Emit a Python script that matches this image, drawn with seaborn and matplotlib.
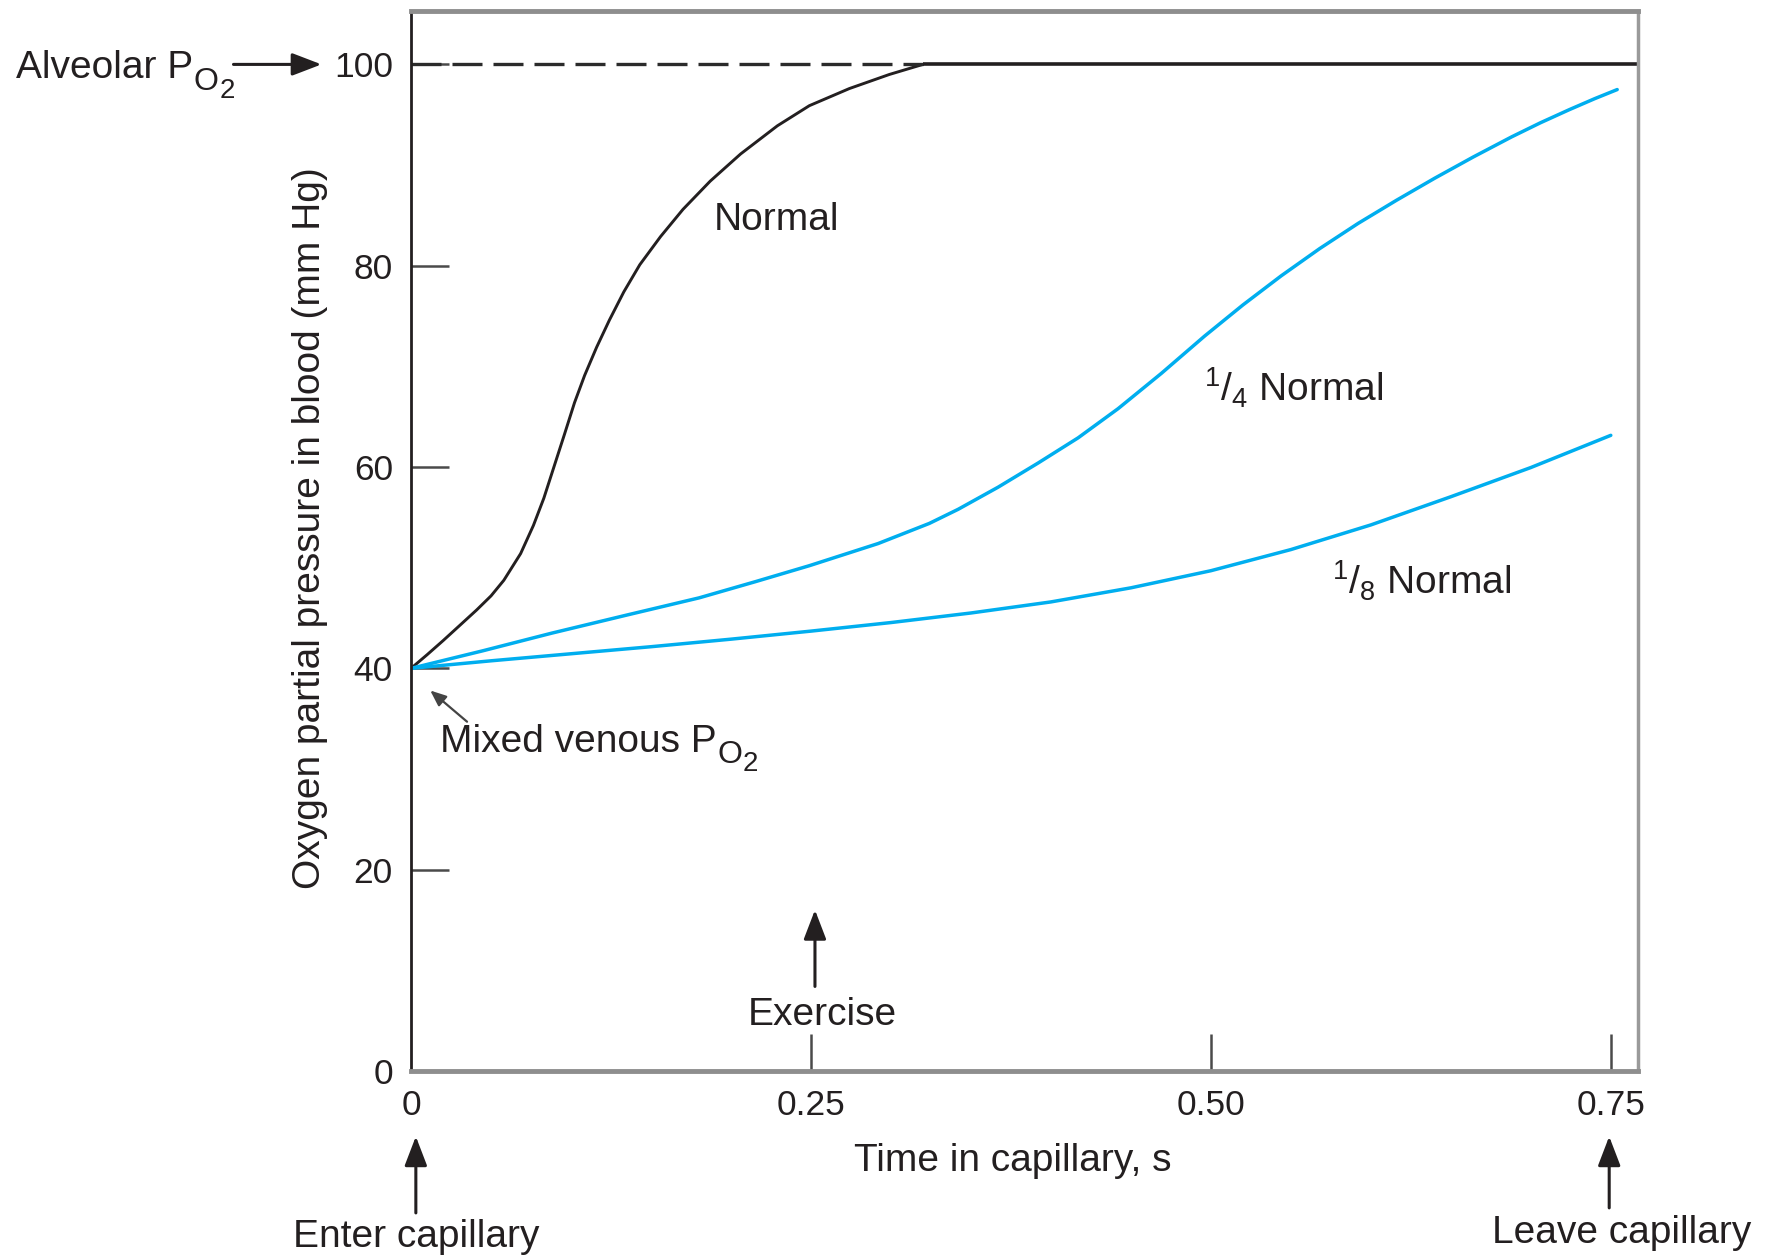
import matplotlib
matplotlib.use('Agg')
import matplotlib.pyplot as plt
import seaborn as sns

# values (time in s, PO2 in mm Hg)
normal_time = [0, 0.010, 0.020, 0.030, 0.041, 0.050, 0.058, 0.0685, 0.0765, 0.083,
               0.0895, 0.0958, 0.1022, 0.1085, 0.116, 0.124, 0.133, 0.143, 0.156, 0.170,
               0.187, 0.206, 0.229, 0.249, 0.274, 0.299, 0.320]
normal_po2 = [40, 41.35, 42.75, 44.2, 45.8, 47.2, 48.75, 51.4, 54.2, 56.9,
              60.1, 63.2, 66.4, 69.1, 71.9, 74.6, 77.4, 80.1, 82.9, 85.6,
              88.4, 91.1, 93.9, 95.9, 97.6, 99.0, 100]

quarter_time = [0, 0.045, 0.088, 0.135, 0.18, 0.215, 0.249, 0.292, 0.324, 0.342,
                0.367, 0.392, 0.417, 0.442, 0.469, 0.496, 0.52, 0.544, 0.568, 0.592,
                0.616, 0.640, 0.664, 0.688, 0.706, 0.724, 0.740, 0.754]
quarter_po2 = [40, 41.75, 43.5, 45.3, 47.0, 48.6, 50.2, 52.4, 54.4, 55.8,
               58.0, 60.4, 62.9, 65.8, 69.3, 73.0, 76.1, 79.0, 81.7, 84.2,
               86.5, 88.7, 90.8, 92.8, 94.2, 95.5, 96.6, 97.5]

eighth_time = [0, 0.05, 0.1, 0.15, 0.2, 0.25, 0.3, 0.35, 0.4, 0.45,
               0.5, 0.55, 0.6, 0.65, 0.7, 0.75]
eighth_po2 = [40, 40.75, 41.45, 42.15, 42.9, 43.7, 44.55, 45.5, 46.6, 48.0,
              49.7, 51.8, 54.25, 57.05, 59.95, 63.15]

alveolar_po2 = 100
x_ticks = [0, 0.25, 0.50, 0.75]
x_tick_labels = ['0', '0.25', '0.50', '0.75']
y_ticks = [0, 20, 40, 60, 80, 100]

INK = '#231f20'
BLUE = '#00aeef'
GREY = '#8e8e8e'

sns.set_style('white')
plt.rcParams['font.family'] = ['Liberation Sans', 'DejaVu Sans']
plt.rcParams['mathtext.fontset'] = 'custom'
plt.rcParams['mathtext.rm'] = 'Liberation Sans'
plt.rcParams['mathtext.it'] = 'Liberation Sans:italic'
plt.rcParams['mathtext.bf'] = 'Liberation Sans:bold'

fig = plt.figure(figsize=(17.71, 12.56), dpi=100)
ax = fig.add_axes([0.2321, 0.1473, 0.6928, 0.8439])

xmax = 0.767
sns.lineplot(x=normal_time, y=normal_po2, ax=ax, color=INK, lw=2.1)
sns.lineplot(x=quarter_time, y=quarter_po2, ax=ax, color=BLUE, lw=2.5)
sns.lineplot(x=eighth_time, y=eighth_po2, ax=ax, color=BLUE, lw=2.5)

# alveolar level: dashed until the normal curve reaches it, solid after
t_eq = normal_time[-1]
ax.hlines(alveolar_po2, 0, t_eq, colors='#2b2b2b', lw=2.4, linestyles=(0, (9, 3.3)))
ax.hlines(alveolar_po2, t_eq, xmax, colors=INK, lw=2.6)

ax.set_xlim(0, xmax)
ax.set_ylim(0, 105.3)
ax.set_xticks(x_ticks, x_tick_labels)
ax.set_yticks(y_ticks)
ax.tick_params(direction='in', length=27, width=1.8, color='#4a4a4a',
               labelsize=25.5, labelcolor=INK, pad=13, bottom=True, left=True)
ax.xaxis.get_major_ticks()[0].tick1line.set_visible(False)
ax.yaxis.get_major_ticks()[0].tick1line.set_visible(False)

for side in ['top', 'bottom']:
    ax.spines[side].set_color(GREY)
    ax.spines[side].set_linewidth(3.5)
ax.spines['right'].set_color('#9a9a9a')
ax.spines['right'].set_linewidth(2.5)
ax.spines['left'].set_color(INK)
ax.spines['left'].set_linewidth(2.0)

ax.set_xlabel('Time in capillary, s', fontsize=28, color=INK, va='top')
ax.xaxis.set_label_coords(0.4906, -0.068)
ax.set_ylabel('Oxygen partial pressure in blood (mm Hg)', fontsize=28, color=INK)
ax.yaxis.set_label_coords(-0.068, 0.512)

fs = 28
ax.text(0.189, 83.5, 'Normal', fontsize=fs, color=INK, va='baseline')
ax.text(0.4955, 66.5, r'$\mathrm{^1/_4}$ Normal', fontsize=fs, color=INK, va='baseline')
ax.text(0.576, 47.3, r'$\mathrm{^1/_8}$ Normal', fontsize=fs, color=INK, va='baseline')


def po2_label(x, y, prefix):
    t = ax.text(x, y, prefix, fontsize=fs, color=INK, va='baseline', ha='left', clip_on=False)
    o = ax.annotate('O', xy=(1, 0), xycoords=t, xytext=(0.5, -2.5),
                    textcoords='offset points', fontsize=23, color=INK, va='baseline')
    ax.annotate('2', xy=(1, 0), xycoords=o, xytext=(0.5, -0.5),
                textcoords='offset points', fontsize=20, color=INK, va='baseline')


po2_label(-0.247, 98.6, 'Alveolar P')
po2_label(0.018, 31.7, 'Mixed venous P')

big_arrow = dict(arrowstyle='-|>,head_length=0.6,head_width=0.23', mutation_scale=30,
                 lw=2.2, color=INK, shrinkA=0, shrinkB=0)
small_arrow = dict(arrowstyle='-|>,head_length=0.6,head_width=0.25', mutation_scale=16,
                   lw=1.6, color='#444444', shrinkA=0, shrinkB=0)

ax.annotate('', xy=(-0.056, alveolar_po2), xytext=(-0.111, alveolar_po2),
            arrowprops=big_arrow, annotation_clip=False)
ax.annotate('', xy=(0.012, 37.8), xytext=(0.035, 34.7),
            arrowprops=small_arrow, annotation_clip=False)

ax.annotate('', xy=(0.2525, 16.0), xytext=(0.2525, 8.4), arrowprops=big_arrow)
ax.text(0.2572, 4.57, 'Exercise', fontsize=fs, color=INK, ha='center', va='baseline')

ax.annotate('', xy=(0.003, -6.5), xytext=(0.003, -14.1),
            arrowprops=big_arrow, annotation_clip=False)
ax.text(0.003, -17.45, 'Enter capillary', fontsize=fs, color=INK, ha='center', va='baseline')
ax.annotate('', xy=(0.749, -6.5), xytext=(0.749, -13.6),
            arrowprops=big_arrow, annotation_clip=False)
ax.text(0.757, -17.1, 'Leave capillary', fontsize=fs, color=INK, ha='center', va='baseline')

fig.savefig('out.png', dpi=100)
